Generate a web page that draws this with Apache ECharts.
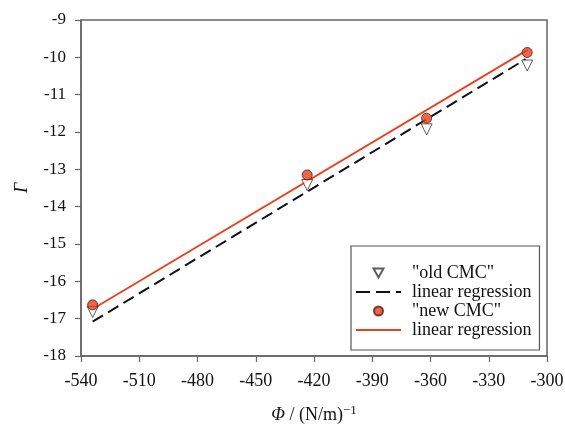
<!DOCTYPE html>
<html>
<head>
<meta charset="utf-8">
<script src="https://cdn.jsdelivr.net/npm/echarts@6/dist/echarts.min.js"></script>
<style>
  html, body { margin: 0; padding: 0; background: #fff; }
  #chart { width: 565px; height: 425px; }
</style>
</head>
<body>
<div id="chart"></div>
<script>
// phi in (N/m)^-1, gamma
const oldCMC = [[-534, -16.82], [-423.5, -13.42], [-362, -11.93], [-310.2, -10.22]]
const newCMC = [[-534, -16.63], [-423.5, -13.15], [-362, -11.63], [-310.2, -9.87]]
// regression lines, end points only
const oldFit = [[-534, -17.08], [-311, -10.05]]
const newFit = [[-534, -16.74], [-310, -9.8]]

const xTicks = { min: -540, max: -300, interval: 30 }
const yTicks = { min: -18, max: -9, interval: 1 }

const FONT = '"Liberation Serif", "Times New Roman", serif'
const AXIS = '#666'
const RED = '#e8401c'

// legend icons (keepAspect fits them into itemWidth x itemHeight)
const ICON_TRI = 'path://M0,0L10,0L5,9Z'
const ICON_DASH = 'path://M0,0h14v2h-14zM20,0h14v2h-14zM40,0h5v2h-5z'
const ICON_LINE = 'path://M0,0h45v2h-45z'

const chart = echarts.init(document.getElementById('chart'))

chart.setOption({
  backgroundColor: '#fff',
  textStyle: { fontFamily: FONT },
  grid: {
    left: 81, right: 18, top: 20, bottom: 69,
    outerBoundsMode: 'none',
    show: true, borderColor: AXIS, borderWidth: 1.5, backgroundColor: 'transparent'
  },
  legend: {
    left: 351, top: 246,
    orient: 'vertical',
    backgroundColor: '#fff',
    borderColor: '#555', borderWidth: 1.2, borderRadius: 0,
    padding: [18, 8, 11, 5],
    itemWidth: 45, itemHeight: 9, itemGap: 1,
    formatter: name => name.trim(),
    textStyle: { fontFamily: FONT, fontSize: 18, color: '#111', padding: [0, 0, 0, 6], lineHeight: 17 },
    data: [
      { name: '"old CMC"', icon: ICON_TRI },
      { name: 'linear regression', icon: ICON_DASH },
      { name: '"new CMC"', icon: 'circle' },
      { name: 'linear regression ', icon: ICON_LINE }
    ]
  },
  xAxis: {
    type: 'value',
    min: xTicks.min, max: xTicks.max, interval: xTicks.interval,
    name: '{i|Φ} / (N/m){s|−1}',
    nameLocation: 'middle', nameGap: 48,
    nameTextStyle: {
      fontFamily: FONT, fontSize: 18, color: '#111',
      rich: {
        i: { fontFamily: FONT, fontSize: 18, fontStyle: 'italic', color: '#111' },
        s: { fontFamily: FONT, fontSize: 13, color: '#111', verticalAlign: 'top', padding: [0, 0, 10, 0] }
      }
    },
    axisLine: { lineStyle: { color: AXIS, width: 1.5 } },
    axisTick: { show: true, inside: false, length: 6, lineStyle: { color: AXIS, width: 1.2 } },
    axisLabel: { fontFamily: FONT, fontSize: 18, color: '#111', margin: 16 },
    splitLine: { show: false }
  },
  yAxis: {
    type: 'value',
    min: yTicks.min, max: yTicks.max, interval: yTicks.interval,
    name: 'Γ',
    nameLocation: 'middle', nameGap: 50,
    nameTextStyle: { fontFamily: FONT, fontSize: 18, fontStyle: 'italic', color: '#111' },
    axisLine: { lineStyle: { color: AXIS, width: 1.5 } },
    axisTick: { show: true, inside: false, length: 6, lineStyle: { color: AXIS, width: 1.2 } },
    axisLabel: { fontFamily: FONT, fontSize: 17, color: '#111', margin: 15 },
    splitLine: { show: false }
  },
  series: [
    {
      name: '"old CMC"',
      type: 'scatter',
      symbol: 'triangle', symbolRotate: 180, symbolSize: 11,
      itemStyle: { color: '#fff', borderColor: '#333', borderWidth: 1 },
      data: oldCMC, z: 4
    },
    {
      name: 'linear regression',
      type: 'line',
      symbol: 'none',
      lineStyle: { color: '#111', width: 2, type: [12, 6] },
      itemStyle: { color: '#111' },
      data: oldFit, z: 2
    },
    {
      name: '"new CMC"',
      type: 'scatter',
      symbol: 'circle', symbolSize: 10,
      itemStyle: { color: RED, borderColor: '#5a1a0a', borderWidth: 1 },
      data: newCMC, z: 5
    },
    {
      name: 'linear regression ',
      type: 'line',
      symbol: 'none',
      lineStyle: { color: RED, width: 1.8 },
      itemStyle: { color: RED },
      data: newFit, z: 3
    }
  ]
})
</script>
</body>
</html>
